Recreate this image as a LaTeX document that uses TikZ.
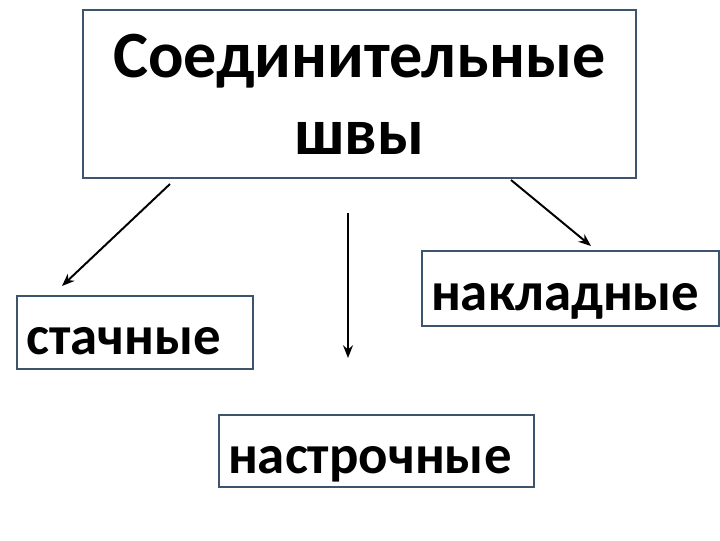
\documentclass[tikz,border=0pt]{standalone}
\usepackage{fontspec}
\setmainfont{Carlito}
\usetikzlibrary{arrows.meta}

\begin{document}
\begin{tikzpicture}[x=0.025cm, y=-0.025cm]

% Define the colors
\definecolor{seamborder}{RGB}{60,84,110}

% Define the styles
\tikzset{
  seambox/.style={draw=seamborder, line width=1.4pt, fill=white, inner ysep=0pt},
  seamlabel/.style={seambox, inner xsep=0.23cm, align=left, text height=1.1cm, text depth=0pt,
                    font=\bfseries\fontsize{39}{43}\selectfont},
  seamarrow/.style={line width=1.4pt, -{Stealth[length=9pt, width=7pt]}}
}

\useasboundingbox (0,0) rectangle (720,540);

% Draw the title box
\node[seambox, minimum width=13.83cm, minimum height=4.2cm, align=center,
      font=\bfseries\fontsize{47}{55}\selectfont] (title) at (359.5,94)
  {Соединительные\\швы};

% Draw the kinds of seams
\node[seamlabel, minimum width=5.9cm, minimum height=1.83cm, text width=5.44cm] (stach) at (135,332.5) {стачные};
\node[seamlabel, minimum width=7.43cm, minimum height=1.88cm, text width=6.97cm] (naklad) at (570.5,288.5) {накладные};
\node[seamlabel, minimum width=7.88cm, minimum height=1.8cm, text width=7.42cm] (nastroch) at (376.5,451) {настрочные};

% Draw the arrow ends
\coordinate (stachTip) at (62,286);
\coordinate (nastrochTip) at (348,358);
\coordinate (nakladTip) at (591,246);
\coordinate (stachTail) at (170,184);
\coordinate (nastrochTail) at (348,213);
\coordinate (nakladTail) at (511,180);

% Draw the arrows
\draw[seamarrow] (stachTail) -- (stachTip);
\draw[seamarrow] (nastrochTail) -- (nastrochTip);
\draw[seamarrow] (nakladTail) -- (nakladTip);

\end{tikzpicture}
\end{document}
